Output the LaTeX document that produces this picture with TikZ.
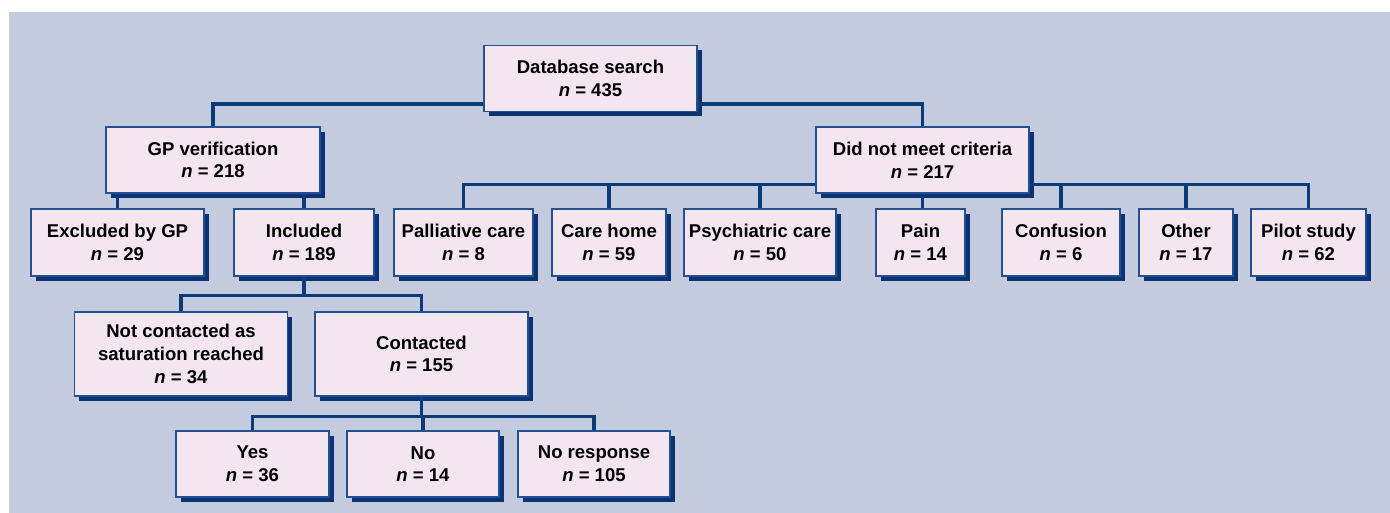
\documentclass[tikz,border=0pt]{standalone}
\usepackage{fontspec}
\setmainfont{Liberation Sans}
\usetikzlibrary{shadows,calc}
\definecolor{panelblue}{HTML}{C5CBDF}
\definecolor{boxfill}{HTML}{F3E6F0}
\definecolor{boxline}{HTML}{24508F}
\definecolor{linkblue}{HTML}{0B3A7A}
\definecolor{shadowblue}{HTML}{0B3373}
\tikzset{
    box/.style={draw=boxline,fill=boxfill,line width=1pt,align=center,inner sep=0pt,
        font=\bfseries\fontsize{13.9}{17}\selectfont,
        drop shadow={shadow xshift=3.6pt,shadow yshift=-3.6pt,fill=shadowblue,opacity=1}},
    bw/.style={minimum width=#1*0.75pt},
    bh/.style={minimum height=#1*0.75pt},
    link/.style={draw=linkblue,line width=2.7pt},
}

\begin{document}
\begin{tikzpicture}[x=0.75pt,y=-0.75pt]
        \useasboundingbox (0,0) rectangle (1390,513);
        \fill[panelblue] (9,12) rectangle (1390,513);
        % top levels
        \node[box,bw=213,bh=66] (db) at (590.5,78.5) {Database search\\\textit{n} = 435};
        \node[box,bw=214,bh=66] (gp) at (213,160) {GP verification\\\textit{n} = 218};
        \node[box,bw=213,bh=66] (dnm) at (922.5,160) {Did not meet criteria\\\textit{n} = 217};
        % second row
        \node[box,bw=173,bh=67] (excl) at (117.5,242.5) {Excluded by GP\\\textit{n} = 29};
        \node[box,bw=140,bh=67] (incl) at (304,242.5) {Included\\\textit{n} = 189};
        \node[box,bw=139,bh=67] (pall) at (463.5,242.5) {Palliative care\\\textit{n} = 8};
        \node[box,bw=114,bh=67] (care) at (609,242.5) {Care home\\\textit{n} = 59};
        \node[box,bw=152,bh=67] (psych) at (760,242.5) {Psychiatric care\\\textit{n} = 50};
        \node[box,bw=89,bh=67] (pain) at (920.5,242.5) {Pain\\\textit{n} = 14};
        \node[box,bw=118,bh=67] (conf) at (1061,242.5) {Confusion\\\textit{n} = 6};
        \node[box,bw=94,bh=67] (other) at (1186,242.5) {Other\\\textit{n} = 17};
        \node[box,bw=115,bh=67] (pilot) at (1308.5,242.5) {Pilot study\\\textit{n} = 62};
        % third row
        \node[box,bw=213,bh=84] (notcon) at (181,354) {Not contacted as\\saturation reached\\\textit{n} = 34};
        \node[box,bw=213,bh=84] (con) at (421.5,354) {Contacted\\\textit{n} = 155};
        % fourth row
        \node[box,bw=153,bh=66] (yes) at (252.5,464) {Yes\\\textit{n} = 36};
        \node[box,bw=152,bh=66] (no) at (423,464) {No\\\textit{n} = 14};
        \node[box,bw=152,bh=66] (noresp) at (594,464) {No response\\\textit{n} = 105};
        % connectors
        \coordinate (crit) at ([yshift=7pt]dnm.south);
        \coordinate (inclbus) at ([yshift=-14pt]incl.south);
        \coordinate (conbus) at ([yshift=-15pt]con.south);
        \draw[link] ([yshift=6pt]db.south west) -| (gp.north);
        \draw[link] ([yshift=6pt]db.south east) -| (dnm.north);
        \draw[link] (excl.north) -- (excl.north |- gp.south);
        \draw[link] (incl.north) -- (incl.north |- gp.south);
        \draw[link] (pall.north) |- ([yshift=7pt]dnm.south west);
        \draw[link] (pilot.north) |- ([yshift=7pt]dnm.south east);
        \draw[link] (care.north) -- (care.north |- crit);
        \draw[link] (psych.north) -- (psych.north |- crit);
        \draw[link] (dnm.south) -- (dnm.south |- pain.north);
        \draw[link] (conf.north) -- (conf.north |- crit);
        \draw[link] (other.north) -- (other.north |- crit);
        \draw[link] (incl.south) -- (inclbus);
        \draw[link] (notcon.north) |- (inclbus) -| (con.north);
        \draw[link] (con.south) -- (conbus);
        \draw[link] (yes.north) |- (conbus) -| (noresp.north);
        \draw[link] (no.north) -- (no.north |- conbus);
    \end{tikzpicture}
\end{document}
